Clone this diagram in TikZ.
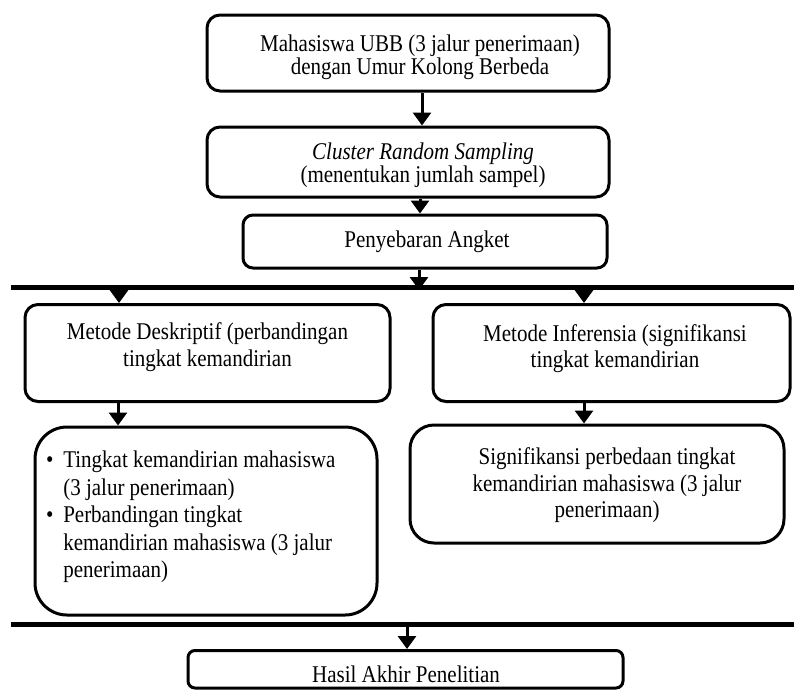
\documentclass[tikz,border=0pt]{standalone}
\usepackage{fontspec}
\setmainfont{Liberation Serif}
\usetikzlibrary{arrows.meta}
\newcommand\sq[1]{\scalebox{0.875}[1]{#1}}
\newcommand\bul{\makebox[19.5pt][l]{\textbullet}}
\newcommand\nobul{\makebox[19.5pt][l]{}}
\begin{document}
\begin{tikzpicture}[x=1pt,y=-1pt,
 box/.style={draw, line width=3pt, rounded corners=13pt, inner sep=0pt},
 txt/.style={font=\fontsize{24}{23}\selectfont, align=center, inner sep=0pt},
 arr/.style={line width=3pt, -{Triangle[length=13pt,width=18pt]}},
 bar/.style={line width=5pt}]
\useasboundingbox (0,0) rectangle (794,689);
% boxes
\node[box, minimum width=402pt, minimum height=76pt] (b1) at (408,53) {};
\node[box, minimum width=402pt, minimum height=70pt] (b2) at (408,162) {};
\node[box, rounded corners=10pt, minimum width=364pt, minimum height=53pt] (b3) at (425,241.5) {};
\node[box, minimum width=365pt, minimum height=97pt] (bA) at (207.5,353) {};
\node[box, minimum width=357pt, minimum height=97pt] (bB) at (611.5,353) {};
\node[box, rounded corners=32pt, minimum width=342pt, minimum height=188pt] (bC) at (206,521) {};
\node[box, rounded corners=24pt, minimum width=374pt, minimum height=118pt] (bD) at (597,484) {};
\node[box, rounded corners=7pt, minimum width=435pt, minimum height=37.5pt] (bE) at (405.5,669.25) {};
% texts
\node[txt] (t1) at (420,57.5) {\sq{Mahasiswa UBB (3 jalur penerimaan)}\\\sq{dengan Umur Kolong Berbeda}};
\node[txt] (t2) at (423,165.5) {\sq{\textit{Cluster Random Sampling}}\\\sq{(menentukan jumlah sampel)}};
\node[txt] (t3) at (427,242) {\sq{Penyebaran Angket}};
\node[txt, font=\fontsize{24}{27}\selectfont] (tA) at (207.5,347.5) {\sq{Metode Deskriptif (perbandingan}\\\sq{tingkat kemandirian}};
\node[txt, font=\fontsize{24}{26}\selectfont] (tB) at (615,349) {\sq{Metode Inferensia (signifikansi}\\\sq{tingkat kemandirian}};
\node[txt, align=left, font=\fontsize{24}{27.5}\selectfont, anchor=west] (tC) at (46,517) {%
\sq{\bul Tingkat kemandirian mahasiswa}\\
\sq{\nobul(3 jalur penerimaan)}\\
\sq{\bul Perbandingan tingkat}\\
\sq{\nobul kemandirian mahasiswa (3 jalur}\\
\sq{\nobul penerimaan)}};
\node[txt, font=\fontsize{24}{26.5}\selectfont] (tD) at (607,485.5) {\sq{Signifikansi perbedaan tingkat}\\\sq{kemandirian mahasiswa (3 jalur}\\\sq{penerimaan)}};
\node[txt] (tE) at (406,674) {\sq{Hasil Akhir Penelitian}};
% bars
\coordinate (l1a) at (11,287.5);
\coordinate (l1b) at (794,287.5);
\coordinate (l2a) at (11,624);
\coordinate (l2b) at (794,624);
\draw[bar] (l1a) -- (l1b);
\draw[bar] (l2a) -- (l2b);
% arrows
\draw[arr] ([xshift=14pt]b1.south) -- ([xshift=14pt]b2.north);
\draw[arr] ([xshift=12pt]b2.south) -- ([xshift=12pt]b2.south |- b3.north);
\draw[arr] ([xshift=-6pt]b3.south) -- ([xshift=-6pt,yshift=-2.5pt]b3.south |- l1a);
\draw[arr] ([yshift=2.5pt]l1a -| 119,0) -- (bA.north -| 119,0);
\draw[arr] ([yshift=2.5pt]l1a -| 584,0) -- (bB.north -| 584,0);
\draw[arr] (bA.south -| 118,0) -- (bC.north -| 118,0);
\draw[arr] (bB.south -| 584,0) -- (bD.north -| 584,0);
\draw[arr] ([yshift=2.5pt]l2a -| 407,0) -- (bE.north -| 407,0);
\end{tikzpicture}
\end{document}
